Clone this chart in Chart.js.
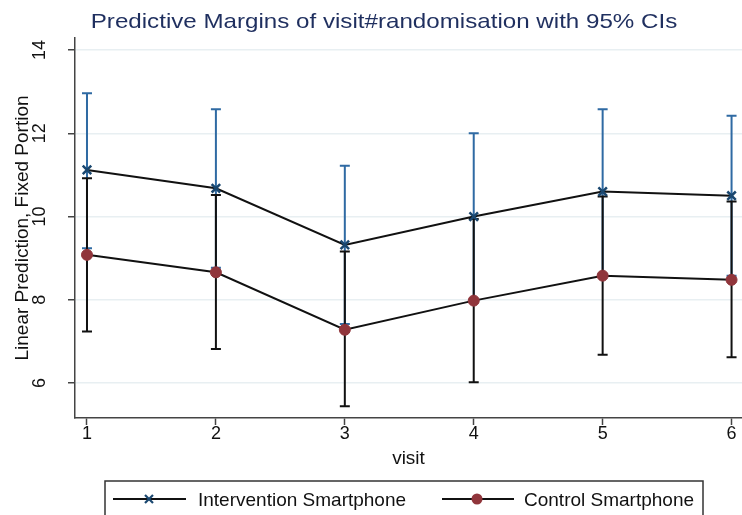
<!DOCTYPE html>
<html>
<head>
<meta charset="utf-8">
<script src="https://cdn.jsdelivr.net/npm/chart.js@4.4.1/dist/chart.umd.min.js"></script>
<style>
  html, body { margin: 0; padding: 0; background: #fff; }
  #wrap { width: 742px; height: 515px; }
</style>
</head>
<body>
<div id="wrap"><canvas id="marginsChart" width="742" height="515"></canvas></div>
<script>
// visits and tick values
const visits = [1, 2, 3, 4, 5, 6];
const xTicks = [1, 2, 3, 4, 5, 6];
const yTicks = [6, 8, 10, 12, 14];
const seriesNames = ["Intervention Smartphone", "Control Smartphone"];

// predictive margins with 95% CIs
const interventionMargin = [11.12, 10.68, 9.32, 10.00, 10.60, 10.50];
const interventionLower  = [9.24, 8.77, 7.42, 8.00, 8.62, 8.58];
const interventionUpper  = [12.96, 12.58, 11.22, 12.00, 12.58, 12.42];
const controlMargin = [9.08, 8.66, 7.28, 7.98, 8.58, 8.48];
const controlLower  = [7.24, 6.82, 5.44, 6.02, 6.68, 6.62];
const controlUpper  = [10.92, 10.52, 9.16, 9.94, 10.48, 10.36];

const FONT = "'Liberation Sans', Arial, sans-serif";
const BLUE_CI = "#2f6aa3";
const NAVY = "#1a476f";
const MAROON = "#90353b";
const AXIS = "#444";

// capped range bars, drawn under the lines
const ciBars = {
    id: "ciBars",
    beforeDatasetsDraw(chart) {
        const { ctx, scales: { x, y } } = chart;
        const groups = [
            { lo: interventionLower, hi: interventionUpper, color: BLUE_CI },
            { lo: controlLower, hi: controlUpper, color: "#111" }
        ];
        ctx.save();
        ctx.lineWidth = 2;
        groups.forEach(g => {
            ctx.strokeStyle = g.color;
            visits.forEach((v, i) => {
                const px = x.getPixelForValue(v);
                const top = y.getPixelForValue(g.hi[i]);
                const bot = y.getPixelForValue(g.lo[i]);
                ctx.beginPath();
                ctx.moveTo(px, top); ctx.lineTo(px, bot);
                ctx.moveTo(px - 5, top); ctx.lineTo(px + 5, top);
                ctx.moveTo(px - 5, bot); ctx.lineTo(px + 5, bot);
                ctx.stroke();
            });
        });
        ctx.restore();
    }
};

// title, rotated y tick labels and the boxed legend
const extras = {
    id: "extras",
    afterDraw(chart) {
        const { ctx, scales: { y } } = chart;
        ctx.save();

        // title
        ctx.fillStyle = "#1f2f5f";
        ctx.font = "21px " + FONT;
        ctx.textAlign = "center";
        ctx.textBaseline = "alphabetic";
        ctx.save();
        ctx.translate(384, 28);
        ctx.scale(1.15, 1);
        ctx.fillText("Predictive Margins of visit#randomisation with 95% CIs", 0, 0);
        ctx.restore();

        // y tick labels
        ctx.fillStyle = "#111";
        ctx.font = "18px " + FONT;
        ctx.textBaseline = "middle";
        yTicks.forEach(v => {
            ctx.save();
            ctx.translate(40, y.getPixelForValue(v));
            ctx.rotate(-Math.PI / 2);
            ctx.fillText(String(v), 0, 0);
            ctx.restore();
        });

        // legend
        ctx.fillStyle = "#fff";
        ctx.fillRect(105, 481, 598, 60);
        ctx.strokeStyle = "#333";
        ctx.lineWidth = 1.5;
        ctx.strokeRect(105, 481, 598, 60);

        const ly = 499;
        ctx.strokeStyle = "#111";
        ctx.lineWidth = 2;
        ctx.beginPath();
        ctx.moveTo(113, ly); ctx.lineTo(186, ly);
        ctx.moveTo(442, ly); ctx.lineTo(514, ly);
        ctx.stroke();

        ctx.strokeStyle = NAVY;
        ctx.lineWidth = 2.2;
        ctx.beginPath();
        ctx.moveTo(149 - 4, ly - 4); ctx.lineTo(149 + 4, ly + 4);
        ctx.moveTo(149 - 4, ly + 4); ctx.lineTo(149 + 4, ly - 4);
        ctx.stroke();

        ctx.fillStyle = MAROON;
        ctx.beginPath();
        ctx.arc(477, ly, 5.5, 0, Math.PI * 2);
        ctx.fill();

        ctx.fillStyle = "#111";
        ctx.font = "19px " + FONT;
        ctx.textAlign = "left";
        ctx.textBaseline = "alphabetic";
        ctx.fillText(seriesNames[0], 198, 506);
        ctx.fillText(seriesNames[1], 524, 506);

        ctx.restore();
    }
};

new Chart("marginsChart", {
    type: "line",
    data: {
        datasets: [
            {
                label: seriesNames[0],
                data: visits.map((v, i) => ({ x: v, y: interventionMargin[i] })),
                borderColor: "#111",
                borderWidth: 2,
                pointStyle: "crossRot",
                pointRadius: 6,
                pointBorderColor: NAVY,
                pointBackgroundColor: NAVY,
                pointBorderWidth: 2.5,
                tension: 0,
                clip: false
            },
            {
                label: seriesNames[1],
                data: visits.map((v, i) => ({ x: v, y: controlMargin[i] })),
                borderColor: "#111",
                borderWidth: 2,
                pointStyle: "circle",
                pointRadius: 5.5,
                pointBorderColor: MAROON,
                pointBackgroundColor: MAROON,
                pointBorderWidth: 1,
                tension: 0,
                clip: false
            }
        ]
    },
    options: {
        responsive: false,
        animation: false,
        layout: { autoPadding: false, padding: { left: 0, right: 0, top: 38, bottom: 42 } },
        plugins: {
            legend: { display: false },
            title: { display: false },
            tooltip: { enabled: false }
        },
        scales: {
            x: {
                type: "linear",
                min: 0.907,
                max: 6.081,
                afterBuildTicks: s => { s.ticks = xTicks.map(v => ({ value: v })); },
                afterFit: s => { s.height = 55; s.paddingLeft = 0; s.paddingRight = 0; },
                grid: { drawOnChartArea: false, drawTicks: true, tickLength: 7, tickColor: AXIS, tickWidth: 1.5 },
                border: { color: AXIS, width: 1.5 },
                ticks: { font: { family: FONT, size: 18, lineHeight: 1 }, color: "#111", padding: 0, maxRotation: 0, autoSkip: false },
                title: { display: true, text: "visit", font: { family: FONT, size: 19 }, color: "#111", padding: { top: 0, bottom: 3 } }
            },
            y: {
                type: "linear",
                min: 5.16,
                max: 14.29,
                afterBuildTicks: s => { s.ticks = yTicks.map(v => ({ value: v })); },
                afterFit: s => { s.width = 75; s.paddingTop = 0; s.paddingBottom = 0; },
                grid: { color: "#e8eff2", lineWidth: 1.5, drawTicks: true, tickLength: 7, tickColor: AXIS, tickWidth: 1.5 },
                border: { color: AXIS, width: 1.5 },
                ticks: { display: false },
                title: { display: true, text: "Linear Prediction, Fixed Portion", font: { family: FONT, size: 19 }, color: "#111", padding: { top: 11, bottom: 0 } }
            }
        }
    },
    plugins: [ciBars, extras]
});
</script>
</body>
</html>
